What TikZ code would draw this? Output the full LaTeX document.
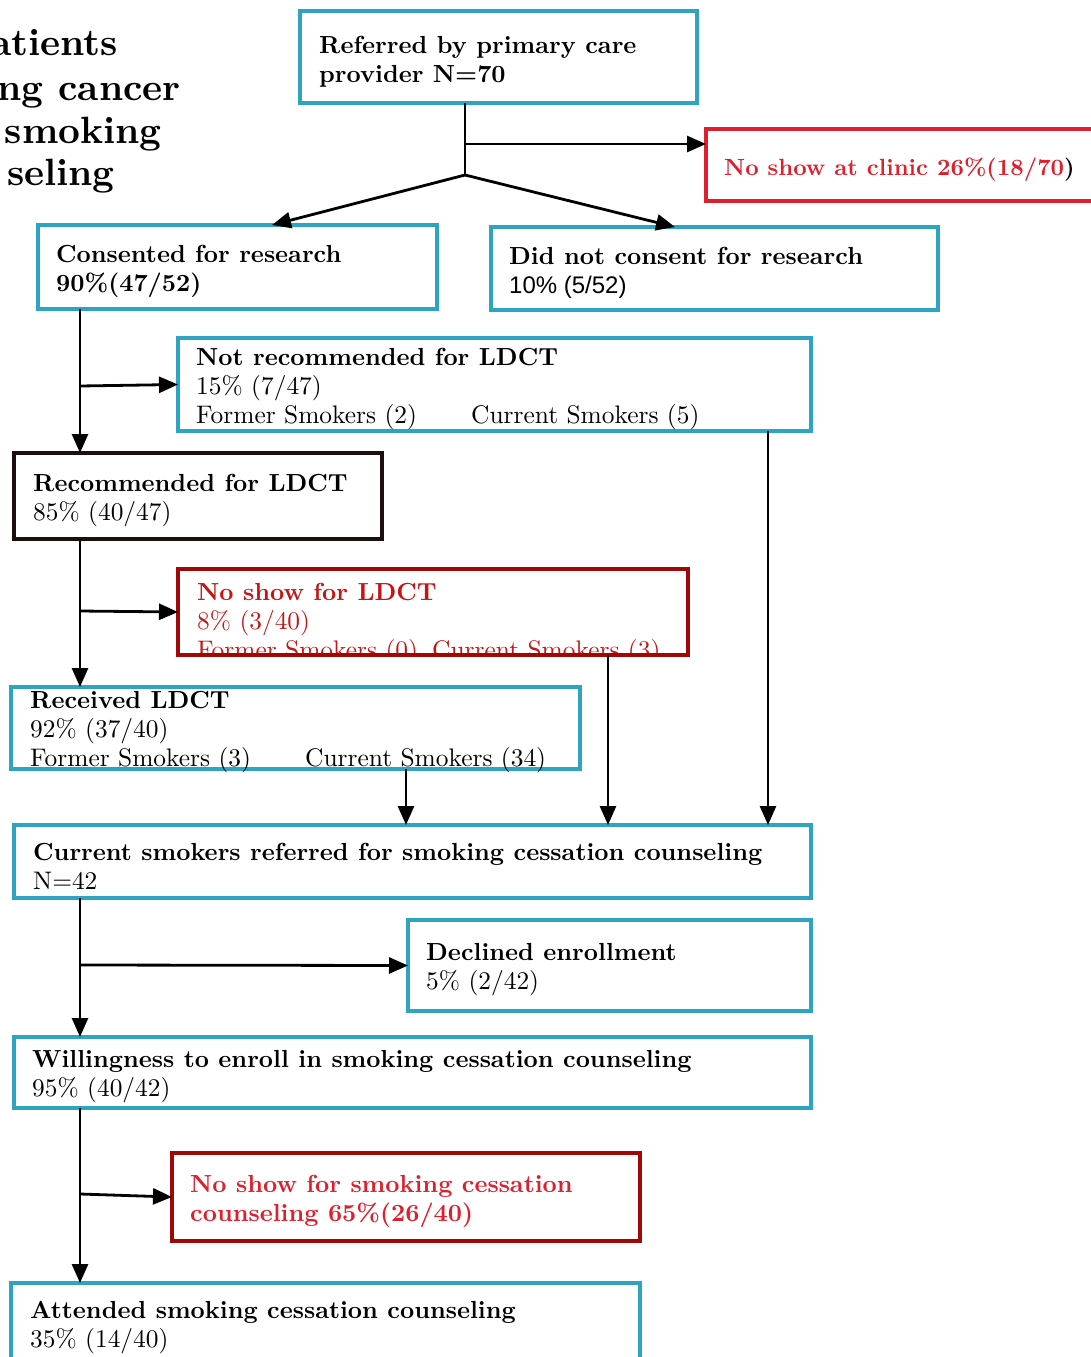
\documentclass[tikz,border=0pt]{standalone}
\usepackage{fontspec}
\setmainfont{lmroman10-regular.otf}[BoldFont=lmroman10-bold.otf]
\newfontfamily\arialfont{Liberation Sans}
\usetikzlibrary{arrows.meta}

\definecolor{boxcyan}{RGB}{46,164,193}
\definecolor{clinicred}{RGB}{222,32,46}
\definecolor{darkred}{RGB}{160,8,8}
\definecolor{ldctred}{RGB}{196,22,22}
\definecolor{boxdark}{RGB}{30,14,14}

\newcommand\bodyfont{\fontsize{25.4}{29}\selectfont}
\newcommand\headfont{\fontsize{24.7}{29}\selectfont\bfseries}

\begin{document}
\begin{tikzpicture}[x=1pt, y=-1pt,
  box/.style={draw=boxcyan, line width=3.5pt, anchor=north west,
              inner sep=0pt, outer sep=0pt},
  wh/.style 2 args={minimum width=#1, minimum height=#2},
  txt/.style={anchor=west, align=left, inner sep=0pt, font=\bodyfont, yshift=-4.5pt},
  ln/.style={line width=2.8pt},
  arr/.style={line width=2.8pt, -{Triangle[length=19pt,width=16pt]}},
  heading/.style={anchor=base east, inner sep=0pt,
                  font=\fontsize{38}{45}\selectfont\bfseries}]

\fill[white] (0,0) rectangle (1091,1357);
\useasboundingbox (0,0) rectangle (1091,1357);

% heading at the left margin
\node[heading] (h1) at (118,55)  {atients};
\node[heading] (h2) at (181,100) {ng cancer};
\node[heading] (h3) at (162,143) {smoking};
\node[heading] (h4) at (115,185) {seling};

% referral and first split
\node[box, wh={397}{92}] (ref) at (300,11) {};
\node[txt, font=\headfont] (ref-t) at ([xshift=19pt]ref.west)
  {Referred by primary care\\provider N=70};

\node[box, draw=clinicred, wh={420}{72}] (clinic) at (706,129) {};
\node[txt, font=\fontsize{23.4}{29}\selectfont\bfseries, text=clinicred] (clinic-t)
  at ([xshift=18pt]clinic.west)
  {No show at clinic 26\%(18/70\textcolor{black}{)}};

\node[box, wh={399}{84}] (cons) at (38,225) {};
\node[txt, font=\headfont] (cons-t) at ([xshift=18pt]cons.west)
  {Consented for research\\90\%(47/52)};

\node[box, wh={447}{83}] (ncons) at (491,227) {};
\node[txt, font=\headfont] (ncons-t) at ([xshift=18pt]ncons.west)
  {Did not consent for research\\{\arialfont\mdseries\fontsize{24}{29}\selectfont 10\% (5/52)}};

% LDCT recommendation
\node[box, wh={633}{93}] (notrec) at (178,338) {};
\node[txt] (notrec-t) at ([xshift=18pt]notrec.west)
  {{\headfont Not recommended for LDCT}\\15\% (7/47)\\
   \makebox[275pt][l]{Former Smokers (2)}Current Smokers (5)};

\node[box, draw=boxdark, line width=4.5pt, wh={368}{86}] (rec) at (14,453) {};
\node[txt] (rec-t) at ([xshift=19pt]rec.west)
  {{\headfont Recommended for LDCT}\\85\% (40/47)};

\node[box, draw=darkred, line width=4pt, wh={510}{86}] (nsl) at (178,569) {};
\begin{scope}
  \clip (nsl.north west) rectangle (nsl.south east);
  \node[txt, text=ldctred, yshift=-7.5pt] (nsl-t) at ([xshift=19pt]nsl.west)
    {{\headfont No show for LDCT}\\8\% (3/40)\\
     \makebox[235pt][l]{Former Smokers (0)}Current Smokers (3)};
\end{scope}
\draw[darkred, line width=4pt] (nsl.north west) rectangle (nsl.south east);

\node[box, wh={569}{82}] (recv) at (11,687) {};
\node[txt] (recv-t) at ([xshift=19pt]recv.west)
  {{\headfont Received LDCT}\\92\% (37/40)\\
   \makebox[275pt][l]{Former Smokers (3)}Current Smokers (34)};

% smoking cessation counseling
\node[box, wh={797}{73}] (cur) at (14,825) {};
\node[txt] (cur-t) at ([xshift=19pt]cur.west)
  {{\headfont Current smokers referred for smoking cessation counseling}\\N=42};

\node[box, wh={403}{91}] (decl) at (408,920) {};
\node[txt] (decl-t) at ([xshift=18pt]decl.west)
  {{\headfont Declined enrollment}\\5\% (2/42)};

\node[box, wh={797}{71}] (will) at (14,1037) {};
\node[txt] (will-t) at ([xshift=18pt]will.west)
  {{\headfont Willingness to enroll in smoking cessation counseling}\\95\% (40/42)};

\node[box, draw=darkred, line width=4pt, wh={468}{88}] (nss) at (172,1153) {};
\node[txt, font=\headfont, text=clinicred] (nss-t) at ([xshift=18pt]nss.west)
  {No show for smoking cessation\\counseling 65\%(26/40)};

\node[box, wh={629}{80}] (att) at (11,1283) {};
\node[txt] (att-t) at ([xshift=19pt]att.west)
  {{\headfont Attended smoking cessation counseling}\\35\% (14/40)};

% connectors
\coordinate (split) at (465,144);
\coordinate (fork) at (465,175);
\draw[ln] (ref.south -| fork) -- (fork);
\draw[arr] (split) -- (split -| clinic.west);
\draw[arr] (fork) -- ([xshift=234pt]cons.north west);
\draw[arr] (fork) -- ([xshift=184pt]ncons.north west);

\coordinate (b1) at (80,386);
\coordinate (b2) at (80,611);
\coordinate (b3) at (80,965);
\coordinate (b4) at (80,1194);
\coordinate (d1) at (768,0);
\coordinate (d2) at (608,0);
\coordinate (d3) at (406,0);

\draw[arr] (cons.south -| b1) -- (rec.north -| b1);
\draw[arr] (b1) -- (notrec.west);
\draw[arr] (notrec.south -| d1) -- (cur.north -| d1);

\draw[arr] (rec.south -| b2) -- (recv.north -| b2);
\draw[arr] (b2) -- (nsl.west);
\draw[arr] (nsl.south -| d2) -- (cur.north -| d2);
\draw[arr] (recv.south -| d3) -- (cur.north -| d3);

\draw[arr] (cur.south -| b3) -- (will.north -| b3);
\draw[arr] (b3) -- (decl.west);

\draw[arr] (will.south -| b4) -- (att.north -| b4);
\draw[arr] (b4) -- (nss.west);
\end{tikzpicture}
\end{document}
